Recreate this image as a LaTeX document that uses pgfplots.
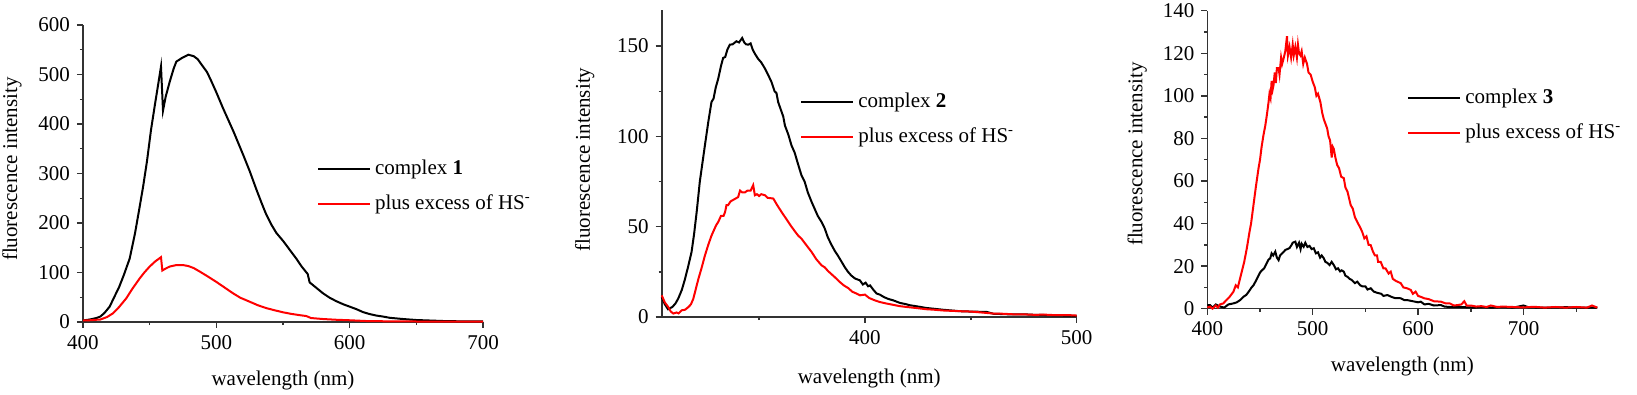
\documentclass[border=0pt]{standalone}
\usepackage{fontspec}
\setmainfont{Liberation Serif}
\usepackage{pgfplots}
\pgfplotsset{compat=1.18}

\pgfplotsset{
  spec/.style={
    scale only axis,
    anchor=south west,
    axis x line*=bottom,
    axis y line*=left,
    axis line style={-, black!80, line width=0.8pt},
    tick align=outside,
    major tick length=3pt,
    minor tick length=1.6pt,
    tick style={black!80, line width=0.7pt},
    /pgf/number format/assume math mode=true,
    tick label style={font=\fontsize{10.5}{12}\selectfont},
    label style={font=\fontsize{10.5}{12}\selectfont},
    xlabel={wavelength (nm)},
    ylabel={fluorescence intensity},
    clip=false,
    legend cell align=left,
    legend image code/.code={\draw[#1] (0pt,0pt) -- (26pt,0pt);},
    legend style={draw=none, fill=none, inner sep=0pt, anchor=west,
      font=\fontsize{10.5}{12}\selectfont, row sep=4.5pt},
  },
}

\begin{document}
\begin{tikzpicture}
\useasboundingbox (0,0) rectangle (818.5pt,197.5pt);

% ---- panel 1 ----
\begin{axis}[spec,
  at={(41.5pt,36.5pt)}, width=200pt, height=148.5pt,
  xmin=400, xmax=700, ymin=0, ymax=600,
  xtick={400,500,600,700}, minor xtick={450,550,650},
  ytick={0,100,...,600}, minor ytick={50,150,...,550},
  xlabel style={at={(axis description cs:0.5,0)}, anchor=center, yshift=-29pt},
  ylabel style={at={(axis description cs:-0.1775,0.515)}, anchor=center},
  legend style={at={(axis description cs:0.584,0.456)}},
]
\addplot[black, line width=1pt] coordinates {
(400,3) (405,5) (410,8) (413,11) (416,18) (420,31) (423,48) (427,70) (430.5,94)
(435,128) (439,179) (442,225) (445,272) (448,325) (451,388) (454,440) (456.5,482)
(458.5,516) (460,427) (462,455) (465,485) (468,512) (470,526) (474,533) (479,540)
(483,537) (486,531) (490,516) (493,505) (496,488) (500,464) (505,432) (510,402)
(513,384) (517,358) (521,332) (525,305) (530,268) (534,240) (537,220) (541,198)
(545,180) (550,164) (555,146) (560,128) (564,112) (568.5,97) (570,80) (575,69)
(580,58) (585,49) (590,42) (595,36) (600,31) (605,26) (610,20) (615,16) (620,13)
(625,11) (630,8.5) (640,6) (650,4) (660,3) (670,2) (680,1.5) (700,1)
};
\addlegendentry{complex \textbf{1}}
\addplot[red, line width=1pt] coordinates {
(400,3) (405,3.5) (410,4.5) (413,5) (418,10) (422.5,17.5) (427,30) (432.5,48)
(437,67) (442.5,88) (446,100) (450,112) (454,122) (458.5,131) (459.5,104) (462,108)
(465,112) (470,115) (475,115) (479,113) (483,109) (487.5,102) (493,93) (500,81)
(506,70) (512.5,58) (518,49) (525,41) (531,34) (537.5,28) (544,23.5) (550,19.6)
(556,16.5) (562,14) (567.5,12) (571,8) (580,6) (590,4.5) (600,3.5) (612,2)
(630,1.3) (650,1) (700,0.5)
};
\addlegendentry{plus excess of HS\textsuperscript{-}}
\end{axis}

% ---- panel 2 ----
\begin{axis}[spec,
  at={(330.85pt,39pt)}, width=207.5pt, height=153.5pt,
  xmin=304, xmax=500, ymin=0, ymax=170,
  xtick={400,500}, minor xtick={350,450},
  ytick={0,50,100,150}, minor ytick={25,75,125},
  xlabel style={at={(axis description cs:0.5,0)}, anchor=center, yshift=-30.5pt},
  ylabel style={at={(axis description cs:-0.1855,0.513)}, anchor=center},
  legend style={at={(axis description cs:0.333,0.643)}},
]
\addplot[black, line width=1pt] coordinates {
(304,11) (305.5,7) (307,4.3) (309,5.5) (310.5,7.5) (311.8,10.2) (313.5,15) (315,21)
(316.5,28) (318.1,36) (319.3,46) (320.5,58) (321.3,67) (322,75) (323.2,85) (324.4,95)
(326,108) (327.5,119) (328.5,121) (329.5,127) (330.7,132) (332,139) (333,143.4)
(334,144) (335,148) (336.2,150.8) (337.5,151) (339.3,152.7) (340.5,152) (342,154.5)
(343,152) (343.8,151) (344.9,150.8) (346,151.5) (347,148) (348,145.8) (349.5,143)
(351,141) (352.8,137.5) (354.3,134) (355.9,130) (357.3,125) (358.2,124) (359,119)
(360.5,114) (361.4,111) (362.2,106) (363.8,101) (365.3,95) (366.8,91) (368.3,85)
(370,78.5) (371.5,75) (373,69) (374.8,63.7) (376.2,60) (377.7,56) (379.5,52.6)
(381,49) (382.5,44) (384.3,39.7) (385.8,36.5) (387.2,34) (389,30.5) (390.5,27.5)
(392,25) (393.5,23) (395.3,21.3) (397.6,20.3) (399,18) (400.3,19) (401.5,17)
(402.4,17.5) (404,15) (405.5,13) (407,12.4) (409,11) (411,10) (413.4,9.2) (416.5,7.8)
(419,7.2) (421.3,6.5) (425,5.8) (429,5) (433,4.5) (437,4) (441,3.6) (445,3.2)
(450,3) (457.5,2.8) (460.6,1.8) (465,1.6) (470,1.4) (475,1.5) (480,1.2) (485,1.1)
(490,0.9) (495,0.8) (500,0.6)
};
\addlegendentry{complex \textbf{2}}
\addplot[red, line width=1pt] coordinates {
(304,12) (305.5,8) (307.1,5.5) (308.3,3) (309.5,1.9) (311,2.5) (312,2) (313.4,3.7)
(315,4) (316.6,5.5) (317.8,7) (318.9,10) (320,15) (321.3,21) (322.8,27) (324.4,34)
(326,40) (327.5,45) (329,49) (329.8,51) (330.7,52.6) (332,56) (333.2,56) (333.9,58)
(334.6,62) (335.4,62) (336.5,64) (338,65) (340.1,66.4) (341,70) (342,69) (343.3,69)
(344.5,70) (346,70) (347.2,73) (348,67.4) (349,68) (350,67) (351,68) (352.8,67.4)
(354,66) (356.7,65.6) (358.5,62) (360.7,58) (363,54) (365.3,50) (367.5,46.5)
(368.5,45) (370,43.4) (372.5,39.5) (374.8,36) (377,32) (379.5,28.6) (381,27.5)
(382.5,25.5) (385.8,22) (388,19.5) (390,17.5) (392.1,16) (394,14) (396,13)
(397.6,12) (400,12.4) (402,10.5) (404.7,9.2) (407,8.3) (410,7.5) (413,6.8)
(416.5,6) (420,5.5) (424,5) (429,4.3) (433,4) (437,3.6) (441,3.4) (445,3.2)
(450,3) (455,2.5) (460.6,1.9) (465,1.8) (470,1.5) (476,1.4) (480,1.2) (485,1.3)
(490,1) (495,1.1) (500,0.8)
};
\addlegendentry{plus excess of HS\textsuperscript{-}}
\end{axis}

% ---- panel 3 ----
\begin{axis}[spec,
  at={(603.65pt,43.15pt)}, width=195pt, height=149pt,
  xmin=400, xmax=770, ymin=0, ymax=140,
  xtick={400,500,600,700}, minor xtick={450,550,650,750},
  ytick={0,20,...,140}, minor ytick={10,30,...,130},
  xlabel style={at={(axis description cs:0.5,0)}, anchor=center, yshift=-29pt},
  ylabel style={at={(axis description cs:-0.1795,0.519)}, anchor=center},
  legend style={at={(axis description cs:0.512,0.648)}},
]
\addplot[black, line width=1pt] coordinates {
(400,1.7) (402.6,1.7) (405,0.5) (408,2) (412,1) (416,0.5) (420,2) (424.8,2.5)
(428,3) (431,4) (434.3,5.6) (437,6.5) (440,8.5) (442,10) (443.8,11) (446,13)
(448,15) (450,17) (451.8,18) (454,19) (456,21) (458,23) (459.7,23.7) (461,26)
(462.5,25) (464.5,26.8) (466,24) (467.6,22.8) (469,25) (471,26) (473,27) (474,27.6)
(476,28) (478,28.5) (480,30) (481,31) (483.5,31.5) (485,29) (487,31) (488.5,28)
(489.5,30.5) (491.4,29.1) (493,31) (495,29) (497,29.5) (499,28) (501,28.4) (503,26)
(505,26.5) (507,24) (508.5,25) (510.5,23.7) (512,22) (514,21.5) (516,20.5) (518,22)
(520,20.5) (522,18.5) (524,19) (526,17.5) (527.5,18) (529.5,17.4) (531,15.5)
(533,15) (535,14) (537,13.5) (540,12) (542.3,12.7) (545,11) (547,10.5) (550,10.5)
(552,9) (555,9.6) (558,8) (561,7.5) (565,7) (567,6) (570.9,6.4) (575,5.5) (578,5)
(583.5,4.9) (587,4) (590,4) (595,3.5) (600,3) (602.5,3.3) (606,2) (610,2.3)
(615,1.5) (621.6,1.7) (625,1) (630,0.8) (640,0.8) (653,0.5) (660,0.8) (670,0.5)
(680,0.8) (690,0.5) (700,1.5) (705,0.6) (720,0.5) (740,0.7) (760,0.5) (770,0.5)
};
\addlegendentry{complex \textbf{3}}
\addplot[red, line width=1pt] coordinates {
(400,0.5) (402.6,1) (405,0) (408,1.5) (410,0.5) (412,2) (415.2,2.5) (418,4)
(421,5.5) (424.8,8) (427,11) (429,10) (431.1,14.3) (433,18) (435,22) (437.5,28.4)
(440,36) (441.5,40) (443.8,48.7) (446,57) (448.6,66) (450,70) (451.5,76)
(453.3,81.6) (455,86) (456.5,91) (458.1,97) (459,101) (460,99) (461,107) (462,103)
(462.8,105) (464,111) (465,106) (466,113) (467.6,113) (468.5,110) (470,118)
(471,115) (472.4,117.6) (474,121) (475.6,128) (476.5,119) (478,123) (479.5,118)
(481,124) (482,119) (483.5,123) (485,118) (486,124) (487,120) (488.3,119)
(489.5,121) (491,115) (492.5,118) (494.6,115) (496,111) (498,110) (500,106.6)
(502,104) (503.5,100) (505,101) (507.3,97) (509,92) (510.5,89) (512,87)
(513.7,84.7) (515,81) (516.5,79) (518,71) (519,76) (520,75) (521.5,71) (523.2,67.5)
(525,66) (527,62) (529.5,61.3) (531,57) (533,55) (536,48.7) (538,47) (540,43)
(542,41) (545.4,37.8) (547,36) (549,33) (551,34) (553,30) (555,29.9) (557,27)
(559,25) (561,25) (562,22) (564.5,22) (567,19) (569,19) (572,16.5) (574,17.4)
(576,14) (579,13) (583.5,12) (586,10) (590,9.5) (593,8.8) (595,7) (597.6,8)
(600,6) (603,5.5) (605.7,4.9) (610,4.5) (615,3.5) (621.6,3.3) (626,2.5) (630,2.5)
(634,1.5) (637.5,1.7) (641,2) (643.8,3.5) (646,1.5) (650,1.5) (655,1) (660,1.2)
(665,0.8) (669,1.5) (675,0.8) (680,1) (690,0.8) (700,0.6) (710,0.9) (720,0.5)
(730,0.8) (740,0.5) (750,0.8) (760,0.5) (765,1.5) (770,0.5)
};
\addlegendentry{plus excess of HS\textsuperscript{-}}
\end{axis}
\end{tikzpicture}
\end{document}
